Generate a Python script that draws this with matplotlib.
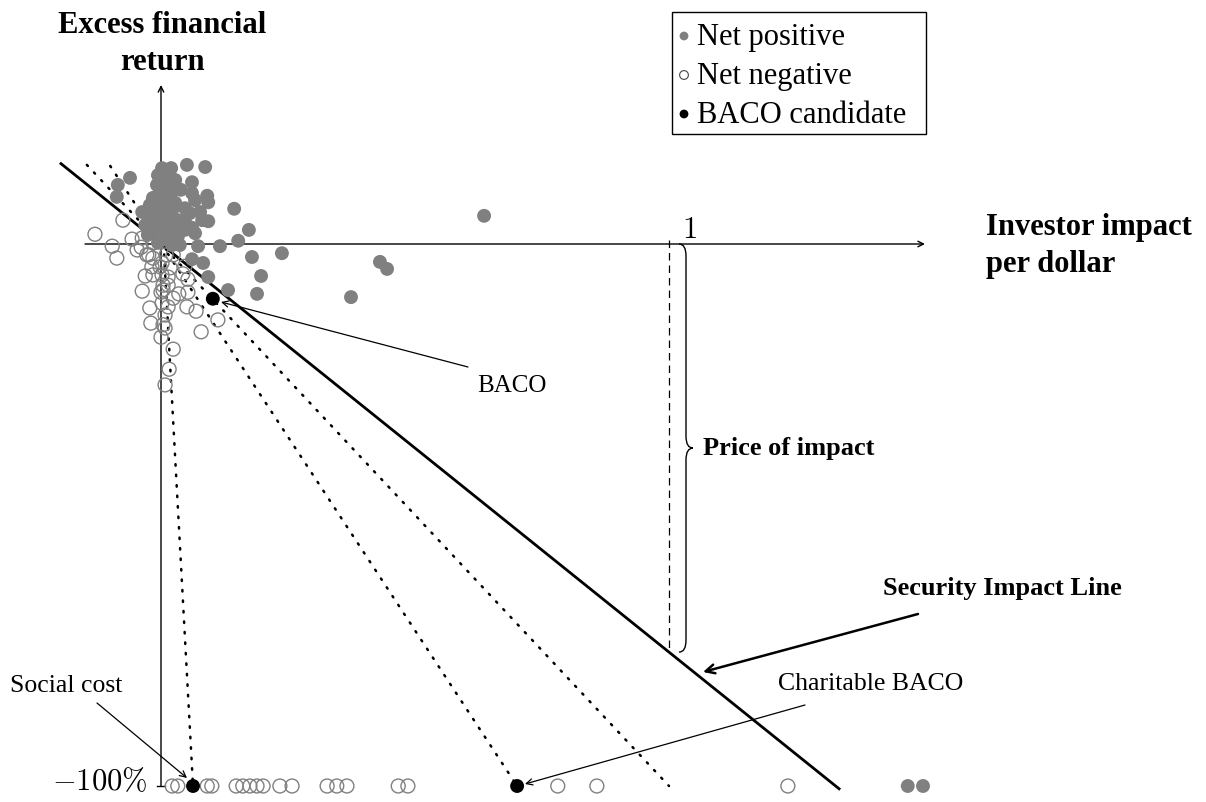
import matplotlib
matplotlib.use('Agg')
import matplotlib.pyplot as plt
from matplotlib.path import Path
from matplotlib.patches import PathPatch, Rectangle

plt.rcParams['font.family'] = ['Liberation Serif', 'DejaVu Serif']
plt.rcParams['mathtext.fontset'] = 'cm'

# ---------------- data (investor impact per dollar, excess financial return) ----
pos_x = [0.002, 0.020, 0.051, 0.087, -0.061, -0.085, -0.087, -0.006, -0.008, 0.061,
         0.012, 0.039, 0.061, 0.091, 0.093, -0.016, 0.004, 0.028, 0.047, -0.037,
         -0.008, 0.144, -0.018, 0.014, 0.047, 0.081, 0.093, -0.031, -0.006, 0.022,
         0.061, 0.173, -0.026, 0.008, 0.033, 0.067, 0.152, 0.073, 0.116, 0.022,
         0.238, 0.179, 0.061, 0.083, 0.197, 0.093, 0.132, 0.189, 0.636, 0.431,
         0.445, 0.374, -0.002, 0.014, 0.028, -0.002, 0.022, 0.033, 0.004, 0.047,
         -0.012, 0.028, 0.010, -0.022, 0.057, 0.014, 0.037, -0.006, 0.077, 0.067]
pos_y = [0.140, 0.140, 0.146, 0.142, 0.122, 0.109, 0.087, 0.127, 0.109, 0.114,
         0.105, 0.100, 0.094, 0.089, 0.077, 0.085, 0.081, 0.076, 0.066, 0.059,
         0.063, 0.065, 0.050, 0.048, 0.044, 0.044, 0.042, 0.035, 0.031, 0.030,
         0.030, 0.026, 0.017, 0.020, 0.013, 0.020, 0.006, -0.004, -0.004, -0.002,
         -0.017, -0.024, -0.028, -0.035, -0.059, -0.061, -0.085, -0.092, 0.052, -0.033,
         -0.046, -0.098, 0.100, 0.087, 0.100, 0.066, 0.063, 0.044, 0.041, 0.026,
         0.026, 0.118, 0.122, 0.072, 0.057, 0.007, -0.002, 0.002, 0.059, 0.081]

neg_x = [-0.130, -0.075, -0.096, -0.087, -0.057, -0.037, -0.039, -0.016, -0.024, -0.016,
         0.010, 0.002, 0.024, -0.031, -0.016, 0.002, 0.014, 0.043, 0.053, 0.047,
         -0.037, 0.000, 0.035, 0.053, -0.022, 0.002, 0.014, 0.051, 0.069, 0.112,
         -0.020, 0.004, 0.008, 0.000, 0.079, 0.024, 0.016, 0.008, -0.047, -0.018,
         -0.002, 0.018, 0.004, 0.014, 0.024, 0.008, 0.004, -0.028]
neg_y = [0.018, 0.044, -0.004, -0.026, 0.009, 0.011, -0.006, 0.002, -0.020, -0.026,
         -0.020, -0.035, -0.020, -0.059, -0.057, -0.057, -0.061, -0.055, -0.065, -0.041,
         -0.087, -0.089, -0.092, -0.089, -0.118, -0.109, -0.116, -0.116, -0.124, -0.140,
         -0.146, -0.149, -0.155, -0.172, -0.162, -0.194, -0.231, -0.260, -0.011, -0.042,
         -0.042, -0.044, -0.076, -0.076, -0.100, -0.131, -0.085, -0.020]

floor_return = -1.0   # -100 %
floor_neg_x = [0.022, 0.033, 0.091, 0.100, 0.148, 0.161, 0.175, 0.189, 0.201, 0.234,
               0.258, 0.327, 0.346, 0.366, 0.467, 0.486, 0.781, 0.858, 1.234]
floor_pos_x = [1.470, 1.500]

baco_x, baco_y = 0.102, -0.101
social_cost_x = 0.063
charitable_x = 0.701

price_of_impact = 0.753          # slope of the Security Impact Line
sil_x = [-0.199, 1.337]
iso_a_x = [-0.146, 1.0]          # y = -x
iso_b = ([-0.100, 0.144], [charitable_x, floor_return])
iso_c = ([0.005, 0.0], [social_cost_x, floor_return])

# ---------------- figure: axes map 1:1 to the canvas --------------------------
X0, XS, Y0, YS = 161.0, 508.0, 244.0, 542.0
W, H = 1206, 802


def P(px, py):
    return (px - X0) / XS, (Y0 - py) / YS


fig = plt.figure(figsize=(W / 100, H / 100), dpi=100)
ax = fig.add_axes([0, 0, 1, 1])
ax.set_xlim(P(0, 0)[0], P(W, 0)[0])
ax.set_ylim(P(0, H)[1], P(0, 0)[1])
ax.axis('off')

gray = '#808080'

# axes with arrows
ax.annotate('', xy=(P(925, 0)[0], 0), xytext=(P(85, 0)[0], 0),
            arrowprops=dict(arrowstyle='->', lw=1, color='black',
                            shrinkA=0, shrinkB=0, mutation_scale=10))
ax.annotate('', xy=(0, P(0, 85)[1]), xytext=(0, floor_return),
            arrowprops=dict(arrowstyle='->', lw=1, color='black',
                            shrinkA=0, shrinkB=0, mutation_scale=10))
ax.plot([-0.007, 0.007], [floor_return, floor_return], color='black', lw=1)

# Security Impact Line
ax.plot(sil_x, [-price_of_impact * v for v in sil_x], color='black', lw=2, zorder=2,
        solid_capstyle='butt')
# dotted iso-lines
dot = dict(color='black', lw=1.8, linestyle=(0, (0.6, 3.6)), dash_capstyle='round', zorder=2)
ax.plot(iso_a_x, [-v for v in iso_a_x], **dot)
ax.plot([iso_b[0][0], iso_b[1][0]], [iso_b[0][1], iso_b[1][1]], **dot)
ax.plot([iso_c[0][0], iso_c[1][0]], [iso_c[0][1], iso_c[1][1]], **dot)

# dashed vertical at impact 1
ax.plot([1, 1], [0.008, -price_of_impact], color='black', lw=0.9,
        linestyle=(0, (6, 4)), zorder=2)

# brace
bx0, bx1, bx2 = P(679, 0)[0], P(686, 0)[0], P(693, 0)[0]
r = 0.022
mid = -price_of_impact / 2
verts = [(bx0, 0), (bx1, 0), (bx1, -r), (bx1, mid + r), (bx1, mid), (bx2, mid),
         (bx2, mid), (bx1, mid), (bx1, mid - r), (bx1, -price_of_impact + r),
         (bx1, -price_of_impact), (bx0, -price_of_impact)]
codes = [Path.MOVETO, Path.CURVE3, Path.CURVE3, Path.LINETO, Path.CURVE3, Path.CURVE3,
         Path.MOVETO, Path.CURVE3, Path.CURVE3, Path.LINETO, Path.CURVE3, Path.CURVE3]
ax.add_patch(PathPatch(Path(verts, codes), fill=False, lw=1, color='black'))

# points
ms = 100
ax.scatter(neg_x, neg_y, s=ms, facecolors='none', edgecolors=gray, linewidths=1, zorder=3)
ax.scatter(floor_neg_x, [floor_return] * len(floor_neg_x), s=ms, facecolors='none',
           edgecolors=gray, linewidths=1, zorder=3)
ax.scatter(pos_x, pos_y, s=ms, color=gray, edgecolors='none', zorder=4)
ax.scatter(floor_pos_x, [floor_return] * len(floor_pos_x), s=ms, color=gray,
           edgecolors='none', zorder=4)
ax.scatter([baco_x, social_cost_x, charitable_x], [baco_y, floor_return, floor_return],
           s=ms, color='black', edgecolors='none', zorder=5)

# texts
ax.text(*P(162, 33), 'Excess financial', ha='center', va='baseline', fontsize=22,
        fontweight='bold')
ax.text(*P(162, 70), 'return', ha='center', va='baseline', fontsize=22, fontweight='bold')
ax.text(*P(986, 235), 'Investor impact', ha='left', va='baseline', fontsize=22,
        fontweight='bold')
ax.text(*P(986, 272), 'per dollar', ha='left', va='baseline', fontsize=22,
        fontweight='bold')
ax.text(*P(682, 238), r'$1$', ha='left', va='baseline', fontsize=22)
ax.text(*P(147, 790), r'$-100\%$', ha='right', va='baseline', fontsize=22)
ax.text(*P(703, 455), 'Price of impact', ha='left', va='baseline', fontsize=19,
        fontweight='bold')
ax.text(*P(883, 595), 'Security Impact Line', ha='left', va='baseline', fontsize=19,
        fontweight='bold')
ax.text(*P(477, 392), 'BACO', ha='left', va='baseline', fontsize=18)
ax.text(*P(10, 692), 'Social cost', ha='left', va='baseline', fontsize=18.5)
ax.text(*P(778, 690), 'Charitable BACO', ha='left', va='baseline', fontsize=18.5)

thin = dict(arrowstyle='->', lw=0.9, color='black', shrinkA=0, shrinkB=0,
            mutation_scale=11)
ax.annotate('', xy=P(221, 302), xytext=P(468, 367), arrowprops=thin)
ax.annotate('', xy=P(187, 778), xytext=P(97, 703), arrowprops=thin)
ax.annotate('', xy=P(525, 784), xytext=P(805, 705), arrowprops=thin)
ax.annotate('', xy=P(703, 672), xytext=P(918, 614),
            arrowprops=dict(arrowstyle='->', lw=1.8, color='black', shrinkA=0,
                            shrinkB=0, mutation_scale=16))

# legend (manual box)
ax.add_patch(Rectangle(P(672, 134), 254 / XS, 122 / YS, fill=False, lw=1,
                       edgecolor='black', zorder=6))
leg_labels = ['Net positive', 'Net negative', 'BACO candidate']
leg_base = [45, 84, 123]
leg_face = [gray, 'none', 'black']
leg_edge = ['none', '#444444', 'none']
for lab, b, fc, ec in zip(leg_labels, leg_base, leg_face, leg_edge):
    ax.text(*P(697, b), lab, ha='left', va='baseline', fontsize=22, zorder=6)
    ax.scatter(*P(684, b - 9), s=40, facecolors=fc, edgecolors=ec, linewidths=0.8,
               zorder=6)

fig.savefig('out.png', dpi=100)
